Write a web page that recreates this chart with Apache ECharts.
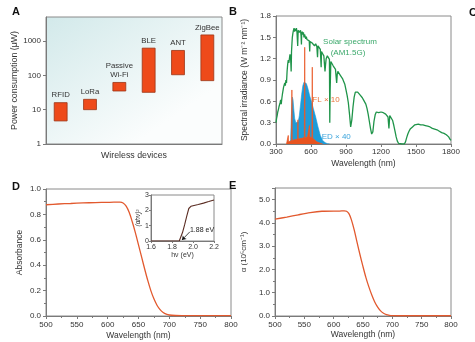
<!DOCTYPE html>
<html><head><meta charset="utf-8">
<script src="https://cdn.jsdelivr.net/npm/echarts@6/dist/echarts.min.js"></script>
<style>html,body{margin:0;padding:0;background:#fff}#c{width:475px;height:342px}</style>
</head><body><div id="c"></div>
<script>
// ---- Panel A: power consumption of wireless devices (µW, log scale)
const categories = ['RFID', 'LoRa', 'Passive\nWi-Fi', 'BLE', 'ANT', 'ZigBee'];
const powerLow  = [4.7, 10, 35, 32, 104, 70];
const powerHigh = [16, 20, 62, 620, 530, 1500];
const powerTicks = [1, 10, 100, 1000];

// ---- Panel B: spectral irradiance [wavelength nm, W m-2 nm-1]
const solarData = [[300,0.30],[305,0.36],[310,0.40],[315,0.45],[320,0.48],[325,0.52],[330,0.50],[335,0.58],[340,0.62],[345,0.56],[350,0.64],[355,0.70],[360,0.68],[365,0.80],[370,0.78],[375,0.86],[380,0.82],[385,0.90],[390,0.86],[395,1.02],[400,1.12],[405,1.18],[410,1.14],[415,1.20],[420,1.26],[425,1.22],[430,1.02],[433,1.30],[437,1.42],[440,1.50],[445,1.56],[450,1.60],[455,1.63],[460,1.58],[465,1.62],[470,1.59],[475,1.63],[480,1.57],[486,1.38],[490,1.60],[495,1.62],[500,1.57],[505,1.55],[510,1.60],[515,1.52],[518,1.40],[520,1.55],[525,1.58],[530,1.54],[535,1.57],[540,1.50],[545,1.54],[550,1.52],[555,1.48],[560,1.51],[565,1.47],[570,1.49],[575,1.46],[580,1.48],[585,1.45],[589,1.30],[592,1.44],[595,1.46],[600,1.43],[605,1.45],[610,1.42],[615,1.44],[620,1.40],[625,1.42],[630,1.38],[640,1.41],[650,1.37],[656,1.22],[660,1.38],[670,1.36],[680,1.33],[687,1.08],[690,1.30],[700,1.27],[710,1.24],[720,1.02],[725,1.12],[730,1.20],[740,1.24],[750,1.22],[758,1.19],[761,0.30],[764,0.75],[770,1.16],[780,1.14],[790,1.10],[800,1.08],[810,1.05],[815,0.95],[820,0.86],[825,0.98],[830,1.02],[840,1.00],[850,0.97],[860,0.95],[870,0.92],[880,0.88],[890,0.84],[900,0.76],[910,0.68],[920,0.58],[930,0.42],[940,0.24],[950,0.34],[960,0.52],[970,0.66],[980,0.73],[990,0.75],[1000,0.73],[1010,0.71],[1020,0.69],[1030,0.67],[1040,0.65],[1050,0.62],[1060,0.60],[1070,0.56],[1080,0.50],[1090,0.42],[1100,0.32],[1110,0.22],[1120,0.14],[1130,0.17],[1140,0.32],[1150,0.41],[1160,0.45],[1170,0.46],[1180,0.44],[1190,0.46],[1200,0.45],[1210,0.46],[1220,0.44],[1230,0.43],[1240,0.42],[1250,0.40],[1260,0.38],[1268,0.22],[1275,0.40],[1280,0.41],[1290,0.38],[1300,0.33],[1310,0.26],[1320,0.18],[1330,0.10],[1340,0.04],[1350,0.01],[1360,0],[1380,0],[1400,0],[1410,0.03],[1420,0.09],[1430,0.14],[1440,0.18],[1450,0.21],[1460,0.19],[1470,0.24],[1480,0.26],[1490,0.27],[1500,0.28],[1520,0.28],[1540,0.27],[1560,0.27],[1580,0.26],[1600,0.25],[1620,0.24],[1640,0.22],[1660,0.21],[1680,0.20],[1700,0.18],[1720,0.16],[1740,0.15],[1760,0.13],[1780,0.10],[1790,0.07],[1800,0.05]];
const ledData = [[400,0],[420,0.02],[425,0.06],[432,0.40],[440,0.66],[446,0.62],[452,0.50],[460,0.36],[470,0.30],[478,0.28],[490,0.31],[500,0.40],[510,0.55],[520,0.70],[530,0.82],[540,0.87],[550,0.88],[560,0.85],[570,0.80],[580,0.74],[590,0.67],[600,0.62],[620,0.50],[640,0.38],[660,0.24],[680,0.12],[700,0.05],[720,0.02],[740,0.005],[760,0]];
const flData = [[390,0],[400,0.02],[403,0.02],[405,0.12],[407,0.03],[420,0.04],[434,0.05],[436,0.76],[438,0.05],[460,0.06],[486,0.07],[488,0.34],[490,0.07],[520,0.08],[543,0.09],[546,1.36],[549,0.09],[570,0.10],[585,0.10],[587,0.26],[589,0.10],[608,0.09],[611,1.08],[614,0.08],[630,0.06],[650,0.03],[680,0.01],[700,0]];

// ---- Panel D: absorbance vs wavelength
const absWl  = [500,520,540,560,580,600,610,620,625,630,635,640,645,650,655,660,665,670,675,680,685,690,695,700,710,720,740,760,780,800];
const absVal = [0.876,0.882,0.886,0.890,0.893,0.895,0.896,0.896,0.890,0.865,0.815,0.74,0.655,0.56,0.465,0.37,0.28,0.20,0.135,0.085,0.05,0.028,0.015,0.008,0.004,0.003,0.003,0.003,0.003,0.003];
// inset: Tauc plot (alpha h nu)^2 vs h nu (eV)
const taucE   = [1.60,1.70,1.80,1.85,1.87,1.88,1.90,1.92,1.94,1.96,1.98,2.00,2.05,2.10,2.15,2.20];
const taucVal = [0,0,0,0,0.02,0.08,0.55,1.05,1.60,2.12,2.26,2.30,2.38,2.47,2.57,2.68];
const bandGapArrow = [[1.97, 0.60], [1.895, 0.07]];

// ---- Panel E: absorption coefficient (10^5 cm^-1)
const alphaWl  = [500,520,540,560,580,600,610,618,622,626,630,635,640,645,650,655,660,665,670,675,680,685,690,695,700,710,720,750,800];
const alphaVal = [4.16,4.25,4.35,4.44,4.50,4.51,4.51,4.52,4.50,4.40,4.15,3.70,3.15,2.62,2.12,1.65,1.25,0.90,0.60,0.38,0.22,0.12,0.06,0.03,0.015,0.01,0.01,0.01,0.01];

const FONT = '"Liberation Sans", Arial, Helvetica, sans-serif';
const AXC = '#7a7a7a', TXT = '#333';
function ax(o) {
  const base = {
    axisLine: { show: true, onZero: false, lineStyle: { color: AXC, width: 1 } },
    axisTick: { show: true, inside: false, length: 3, lineStyle: { color: AXC } },
    axisLabel: { fontSize: 8, color: TXT, fontFamily: FONT, margin: 5 },
    splitLine: { show: false },
    nameLocation: 'middle',
    nameTextStyle: { fontSize: 8.5, color: TXT, fontFamily: FONT }
  };
  const r = Object.assign({}, base, o);
  ['axisLine', 'axisTick', 'axisLabel', 'nameTextStyle'].forEach(k => { if (o[k]) r[k] = Object.assign({}, base[k], o[k]); });
  return r;
}
const gridBase = { show: true, borderColor: '#8a8a8a', borderWidth: 1, containLabel: false, outerBoundsMode: 'none' };

const chart = echarts.init(document.getElementById('c'), null, { renderer: 'canvas' });
chart.setOption({
  animation: false,
  backgroundColor: '#fff',
  textStyle: { fontFamily: FONT },
  grid: [
    Object.assign({ left: 46, top: 17, width: 176, height: 127,
      backgroundColor: new echarts.graphic.LinearGradient(0, 0, 0.5, 1, [{ offset: 0, color: '#d2e9ea' }, { offset: 1, color: '#fbfdfd' }]) }, gridBase),
    Object.assign({ left: 276, top: 16, width: 175, height: 128 }, gridBase),
    Object.assign({ left: 46, top: 189, width: 185, height: 127 }, gridBase),
    Object.assign({ left: 151, top: 195, width: 63, height: 46, backgroundColor: '#fff' }, gridBase),
    Object.assign({ left: 275, top: 188, width: 176, height: 128 }, gridBase)
  ],
  xAxis: [
    ax({ gridIndex: 0, type: 'category', data: categories, axisTick: { show: false }, axisLabel: { show: false },
         name: 'Wireless devices', nameGap: 7, nameTextStyle: { fontSize: 8.8 } }),
    ax({ gridIndex: 1, type: 'value', min: 300, max: 1800, interval: 300, axisLabel: { margin: 4, formatter: v => String(v) },
         name: 'Wavelength (nm)', nameGap: 15 }),
    ax({ gridIndex: 2, type: 'value', min: 500, max: 800, interval: 50, axisLabel: { margin: 5, formatter: v => String(v) },
         minorTick: { show: true, splitNumber: 2, length: 2, lineStyle: { color: AXC } },
         name: 'Wavelength (nm)', nameGap: 15 }),
    ax({ gridIndex: 3, type: 'value', min: 1.6, max: 2.2, interval: 0.2,
         axisTick: { length: 2 }, axisLabel: { fontSize: 7, margin: 3, formatter: v => v.toFixed(1) },
         name: 'hν (eV)', nameGap: 10, nameTextStyle: { fontSize: 7 } }),
    ax({ gridIndex: 4, type: 'value', min: 500, max: 800, interval: 50, axisLabel: { margin: 5, formatter: v => String(v) },
         minorTick: { show: true, splitNumber: 2, length: 2, lineStyle: { color: AXC } },
         name: 'Wavelength (nm)', nameGap: 14 })
  ],
  yAxis: [
    ax({ gridIndex: 0, type: 'log', logBase: 10, min: 1, max: 5000,
         axisLabel: { showMaxLabel: false, formatter: v => (powerTicks.some(t => Math.abs(t - v) < 1e-6 * t) ? String(v) : '') },
         name: 'Power consumption (μW)', nameGap: 26, nameTextStyle: { fontSize: 8.8 } }),
    ax({ gridIndex: 1, type: 'value', min: 0, max: 1.8, interval: 0.3, axisLabel: { formatter: v => v.toFixed(1) },
         name: 'Spectral irradiance (W m⁻² nm⁻¹)', nameGap: 27 }),
    ax({ gridIndex: 2, type: 'value', min: 0, max: 1.0, interval: 0.2, axisLabel: { formatter: v => v.toFixed(1) },
         minorTick: { show: true, splitNumber: 2, length: 2, lineStyle: { color: AXC } },
         name: 'Absorbance', nameGap: 22 }),
    ax({ gridIndex: 3, type: 'value', min: 0, max: 3, interval: 1,
         axisTick: { length: 2 }, axisLabel: { fontSize: 7, margin: 2 },
         name: '(αhν)²', nameGap: 8, nameTextStyle: { fontSize: 6.5, fontStyle: 'italic' } }),
    ax({ gridIndex: 4, type: 'value', min: 0, max: 5.5, interval: 1,
         axisLabel: { showMaxLabel: false, formatter: v => (v > 5.01 ? '' : v.toFixed(1)) },
         minorTick: { show: true, splitNumber: 2, length: 2, lineStyle: { color: AXC } },
         name: 'α (10⁵cm⁻¹)', nameGap: 27, nameTextStyle: { fontSize: 8 } })
  ],
  series: [
    {
      type: 'custom', xAxisIndex: 0, yAxisIndex: 0, clip: false,
      data: categories.map((c, i) => [i, powerLow[i], powerHigh[i]]),
      renderItem: function (params, api) {
        const i = api.value(0);
        const lo = api.coord([i, api.value(1)]);
        const hi = api.coord([i, api.value(2)]);
        const w = api.size([1, 1])[0] * 0.44;
        return {
          type: 'group',
          children: [
            { type: 'rect', shape: { x: hi[0] - w / 2, y: hi[1], width: w, height: lo[1] - hi[1] },
              style: { fill: '#ee4a1a', stroke: '#9a3515', lineWidth: 0.8 } },
            { type: 'text', style: { text: categories[i], x: hi[0], y: hi[1] - 3, align: 'center', verticalAlign: 'bottom',
              fontSize: 7.8, lineHeight: 9, fill: TXT, fontFamily: FONT } }
          ]
        };
      }
    },
    { type: 'line', xAxisIndex: 1, yAxisIndex: 1, data: solarData, showSymbol: false, symbol: 'none',
      lineStyle: { color: '#1f9449', width: 1.3 }, z: 2 },
    { type: 'line', xAxisIndex: 1, yAxisIndex: 1, data: ledData, showSymbol: false, symbol: 'none',
      lineStyle: { color: '#1d9bd8', width: 0.6 }, areaStyle: { color: '#1d9bd8', opacity: 1 }, z: 3 },
    { type: 'line', xAxisIndex: 1, yAxisIndex: 1, data: flData, showSymbol: false, symbol: 'none',
      lineStyle: { color: '#ea5a2a', width: 0.8 }, areaStyle: { color: '#e8531f', opacity: 1 }, z: 4 },
    { type: 'line', xAxisIndex: 2, yAxisIndex: 2, data: absWl.map((x, i) => [x, absVal[i]]), showSymbol: false, symbol: 'none',
      smooth: 0.3, lineStyle: { color: '#e2592e', width: 1.3 } },
    { type: 'line', xAxisIndex: 3, yAxisIndex: 3, data: taucE.map((x, i) => [x, taucVal[i]]), showSymbol: false, symbol: 'none',
      lineStyle: { color: '#5a2c22', width: 1.1 },
      markLine: { silent: true, symbol: ['none', 'arrow'], symbolSize: 4, label: { show: false },
        lineStyle: { color: '#111', width: 0.8, type: 'solid' },
        data: [[{ coord: bandGapArrow[0] }, { coord: bandGapArrow[1] }]] } },
    { type: 'line', xAxisIndex: 4, yAxisIndex: 4, data: alphaWl.map((x, i) => [x, alphaVal[i]]), showSymbol: false, symbol: 'none',
      smooth: 0.3, lineStyle: { color: '#e2592e', width: 1.3 } }
  ],
  graphic: [
    { type: 'text', left: 12, top: 6, style: { text: 'A', font: 'bold 11px ' + FONT, fill: '#111' } },
    { type: 'text', left: 229, top: 6, style: { text: 'B', font: 'bold 11px ' + FONT, fill: '#111' } },
    { type: 'text', left: 469, top: 7, style: { text: 'C', font: 'bold 11px ' + FONT, fill: '#111' } },
    { type: 'text', left: 12, top: 181, style: { text: 'D', font: 'bold 11px ' + FONT, fill: '#111' } },
    { type: 'text', left: 229, top: 180, style: { text: 'E', font: 'bold 11px ' + FONT, fill: '#111' } },
    { type: 'text', x: 350, y: 42, style: { text: 'Solar spectrum', align: 'center', verticalAlign: 'middle', fontSize: 8, fill: '#3aa86a', fontFamily: FONT } },
    { type: 'text', x: 348, y: 53, style: { text: '(AM1.5G)', align: 'center', verticalAlign: 'middle', fontSize: 8, fill: '#3aa86a', fontFamily: FONT } },
    { type: 'text', x: 326, y: 100, style: { text: 'FL × 10', align: 'center', verticalAlign: 'middle', fontSize: 8, fill: '#e8743a', fontFamily: FONT } },
    { type: 'text', x: 334, y: 137, style: { text: 'LED × 40', align: 'center', verticalAlign: 'middle', fontSize: 8, fill: '#3aa4dc', fontFamily: FONT } },
    { type: 'text', x: 202, y: 230, style: { text: '1.88 eV', align: 'center', verticalAlign: 'middle', fontSize: 7, fill: '#222', fontFamily: FONT } }
  ]
});
</script></body></html>
